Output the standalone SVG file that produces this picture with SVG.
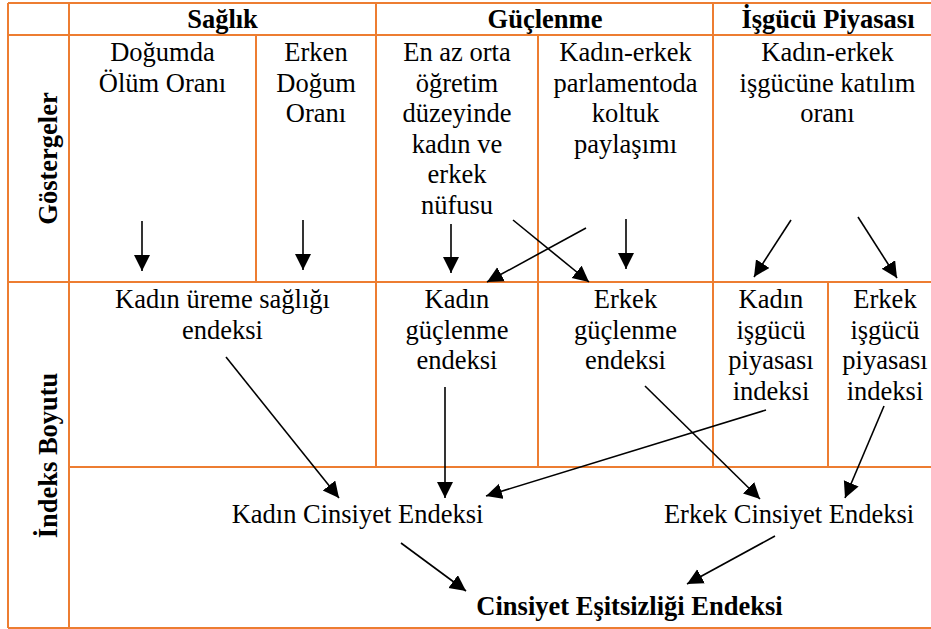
<svg xmlns="http://www.w3.org/2000/svg" width="931" height="629" viewBox="0 0 931 629">
<style>
.g{stroke:#ED7D31;stroke-width:2;fill:none}
.a{stroke:#000;stroke-width:1.6;fill:none;marker-end:url(#ah)}
</style>
<defs>
<marker id="ah" markerUnits="userSpaceOnUse" markerWidth="17" markerHeight="17" refX="16" refY="8" orient="auto">
<path d="M0,0 L16,8 L0,16 z" fill="#000"/>
</marker>
</defs>
<rect width="931" height="629" fill="#fff"/>
<g id="grid">
<path class="g" d="M8,3 H931 M8,35 H931 M8,282 H931 M69,467 H931 M8,628 H931 M8,3 V628 M69,3 V628 M376,3 V35 M713,3 V35 M256,35 V282 M376,35 V467 M538,35 V282 M713,35 V282 M538,282 V467 M713,282 V467 M828,282 V467"/>
</g>
<g font-family="Liberation Serif, Times New Roman, serif" font-size="26.5" fill="#000" text-anchor="middle">
<g id="row-labels" font-weight="bold">
<text transform="translate(57,158.5) rotate(-90)">Göstergeler</text>
<text transform="translate(57,455.5) rotate(-90)">İndeks Boyutu</text>
</g>
<g id="headers" font-weight="bold">
<text x="222.5" y="28">Sağlık</text>
<text x="545" y="28">Güçlenme</text>
<text x="828" y="28">İşgücü Piyasası</text>
</g>
<g id="ind-dogumda">
<text x="162.5" y="61">Doğumda</text>
<text x="162.5" y="91.5">Ölüm Oranı</text>
</g>
<g id="ind-erken">
<text x="316" y="61">Erken</text>
<text x="316" y="91.5">Doğum</text>
<text x="316" y="122">Oranı</text>
</g>
<g id="ind-egitim">
<text x="457" y="61">En az orta</text>
<text x="457" y="91.5">öğretim</text>
<text x="457" y="122">düzeyinde</text>
<text x="457" y="152.5">kadın ve</text>
<text x="457" y="183">erkek</text>
<text x="457" y="213.5">nüfusu</text>
</g>
<g id="ind-parlamento">
<text x="625.5" y="61">Kadın-erkek</text>
<text x="625.5" y="91.5">parlamentoda</text>
<text x="625.5" y="122">koltuk</text>
<text x="625.5" y="152.5">paylaşımı</text>
</g>
<g id="ind-isgucu">
<text x="827.5" y="61">Kadın-erkek</text>
<text x="827.5" y="91.5">işgücüne katılım</text>
<text x="827.5" y="122">oranı</text>
</g>
<g id="idx-ureme">
<text x="222.5" y="308">Kadın üreme sağlığı</text>
<text x="222.5" y="338.5">endeksi</text>
</g>
<g id="idx-kadin-guc">
<text x="457" y="308">Kadın</text>
<text x="457" y="338.5">güçlenme</text>
<text x="457" y="369">endeksi</text>
</g>
<g id="idx-erkek-guc">
<text x="625.5" y="308">Erkek</text>
<text x="625.5" y="338.5">güçlenme</text>
<text x="625.5" y="369">endeksi</text>
</g>
<g id="idx-kadin-isgucu">
<text x="771" y="308">Kadın</text>
<text x="771" y="338.5">işgücü</text>
<text x="771" y="369">piyasası</text>
<text x="771" y="399.5">indeksi</text>
</g>
<g id="idx-erkek-isgucu">
<text x="885" y="308">Erkek</text>
<text x="885" y="338.5">işgücü</text>
<text x="885" y="369">piyasası</text>
<text x="885" y="399.5">indeksi</text>
</g>
<g id="kadin-cinsiyet">
<text x="357.5" y="523">Kadın Cinsiyet Endeksi</text>
</g>
<g id="erkek-cinsiyet">
<text x="789" y="523">Erkek Cinsiyet Endeksi</text>
</g>
<g id="cinsiyet-esitsizligi" font-weight="bold">
<text x="629.5" y="615">Cinsiyet Eşitsizliği Endeksi</text>
</g>
</g>
<g id="connectors">
<line class="a" x1="142" y1="221" x2="142" y2="271"/>
<line class="a" x1="303" y1="220" x2="303" y2="270"/>
<line class="a" x1="451" y1="224" x2="451" y2="273"/>
<line class="a" x1="626" y1="219" x2="626" y2="269"/>
<line class="a" x1="513" y1="220" x2="589" y2="282"/>
<line class="a" x1="586" y1="228" x2="487" y2="282"/>
<line class="a" x1="791" y1="220" x2="754" y2="277"/>
<line class="a" x1="858" y1="217" x2="897" y2="278"/>
<line class="a" x1="226" y1="357" x2="339" y2="498"/>
<line class="a" x1="445" y1="387" x2="445" y2="498"/>
<line class="a" x1="401" y1="543" x2="466" y2="591"/>
<line class="a" x1="645" y1="386" x2="760" y2="499"/>
<line class="a" x1="766" y1="410" x2="486" y2="496"/>
<line class="a" x1="884" y1="406" x2="845" y2="498"/>
<line class="a" x1="775" y1="536" x2="687" y2="584"/>
</g>
</svg>
